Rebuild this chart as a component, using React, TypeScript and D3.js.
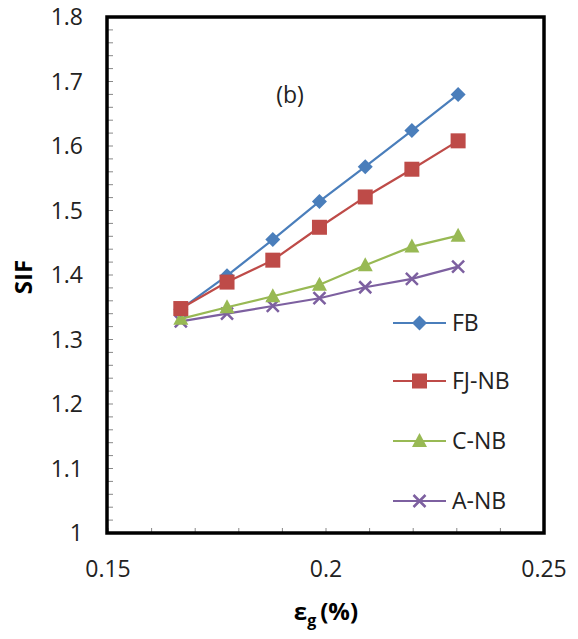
import React, { useRef, useEffect } from "react";
import * as d3 from "d3";

// strain values (x) and SIF for each joint type
const strain = [0.1667, 0.1773, 0.1878, 0.1985, 0.209, 0.2197, 0.2303];
const fb = [1.347, 1.399, 1.455, 1.514, 1.568, 1.624, 1.68];
const fjnb = [1.348, 1.389, 1.423, 1.474, 1.521, 1.564, 1.608];
const cnb = [1.332, 1.35, 1.367, 1.385, 1.415, 1.444, 1.461];
const anb = [1.328, 1.34, 1.352, 1.364, 1.381, 1.394, 1.413];
const seriesNames = ["FB", "FJ-NB", "C-NB", "A-NB"];
const xTicks = [0.15, 0.2, 0.25];
const yTicks = [1, 1.1, 1.2, 1.3, 1.4, 1.5, 1.6, 1.7, 1.8];

const colors = ["#4A7EBB", "#BE4B48", "#98B954", "#7D60A0"];
const symbols = ["diamond", "square", "triangle", "cross"];
const font = "'Open Sans', 'Liberation Sans', sans-serif";

const App = () => {
  const ref = useRef<SVGSVGElement>(null);

  useEffect(() => {
    const width = 578;
    const height = 639;
    const margin = { left: 107, right: 34, top: 17, bottom: 106 };

    const svg = d3.select(ref.current).attr("viewBox", [0, 0, width, height]);
    svg.selectAll("*").remove();

    const x = d3.scaleLinear().domain([0.15, 0.25]).range([margin.left + 1, width - margin.right]);
    const y = d3.scaleLinear().domain([1, 1.8]).range([height - margin.bottom, margin.top]);

    const allSeries = [fb, fjnb, cnb, anb];

    // minor ticks inside plot
    const minorX = d3.range(0.15, 0.2501, 0.01);
    svg.append("g")
      .selectAll("line")
      .data(minorX)
      .join("line")
      .attr("x1", (d) => x(d))
      .attr("x2", (d) => x(d))
      .attr("y1", y(1))
      .attr("y2", y(1) - 5)
      .attr("stroke", "#888")
      .attr("stroke-width", 1);

    const minorY = d3.range(1, 1.8001, 0.02);
    svg.append("g")
      .selectAll("line")
      .data(minorY)
      .join("line")
      .attr("x1", x(0.15))
      .attr("x2", x(0.15) + 5)
      .attr("y1", (d) => y(d))
      .attr("y2", (d) => y(d))
      .attr("stroke", "#888")
      .attr("stroke-width", 1);

    // frame
    svg.append("rect")
      .attr("x", x(0.15) - 1)
      .attr("y", y(1.8))
      .attr("width", x(0.25) - x(0.15) + 1)
      .attr("height", y(1) - y(1.8))
      .attr("fill", "none")
      .attr("stroke", "#000")
      .attr("stroke-width", 3.5);

    // tick labels
    svg.append("g")
      .selectAll("text")
      .data(yTicks)
      .join("text")
      .attr("x", 83)
      .attr("y", (d) => y(d) + 8)
      .attr("text-anchor", "end")
      .attr("font-family", font)
      .attr("font-size", 23)
      .attr("fill", "#222")
      .text((d) => d3.format("")(d));

    svg.append("g")
      .selectAll("text")
      .data(xTicks)
      .join("text")
      .attr("x", (d) => x(d))
      .attr("y", 577)
      .attr("text-anchor", "middle")
      .attr("font-family", font)
      .attr("font-size", 23)
      .attr("fill", "#222")
      .text((d) => d3.format("")(d));

    // axis titles
    svg.append("text")
      .attr("transform", `translate(32,277) rotate(-90)`)
      .attr("text-anchor", "middle")
      .attr("font-family", font)
      .attr("font-size", 24)
      .attr("font-weight", "bold")
      .text("SIF");

    const xt = svg.append("text")
      .attr("x", 326)
      .attr("y", 620)
      .attr("text-anchor", "middle")
      .attr("font-family", font)
      .attr("font-size", 24)
      .attr("font-weight", "bold");
    xt.append("tspan").text("ε");
    xt.append("tspan").attr("font-size", 16).attr("dy", 6).text("g");
    xt.append("tspan").attr("dy", -6).attr("dx", 4).text("(%)");

    svg.append("text")
      .attr("x", 290)
      .attr("y", 103)
      .attr("text-anchor", "middle")
      .attr("font-family", font)
      .attr("font-size", 23)
      .attr("fill", "#222")
      .text("(b)");

    const line = d3.line<number>()
      .x((_, i) => x(strain[i]))
      .y((d) => y(d));

    const drawMarker = (g, kind, color, cx, cy) => {
      if (kind === "diamond") {
        g.append("path")
          .attr("d", `M${cx},${cy - 7.5}L${cx + 7.5},${cy}L${cx},${cy + 7.5}L${cx - 7.5},${cy}Z`)
          .attr("fill", color);
      } else if (kind === "square") {
        g.append("rect")
          .attr("x", cx - 7.5)
          .attr("y", cy - 7.5)
          .attr("width", 15)
          .attr("height", 15)
          .attr("fill", color);
      } else if (kind === "triangle") {
        g.append("path")
          .attr("d", `M${cx},${cy - 8}L${cx + 7.5},${cy + 6}L${cx - 7.5},${cy + 6}Z`)
          .attr("fill", color);
      } else {
        g.append("path")
          .attr("d", `M${cx - 6},${cy - 6}L${cx + 6},${cy + 6}M${cx - 6},${cy + 6}L${cx + 6},${cy - 6}`)
          .attr("stroke", color)
          .attr("stroke-width", 2.5)
          .attr("fill", "none");
      }
    };

    // draw order so FB sits under FJ-NB like the original
    [3, 2, 0, 1].forEach((k) => {
      const data = allSeries[k];
      const g = svg.append("g");
      g.append("path")
        .datum(data)
        .attr("d", line)
        .attr("fill", "none")
        .attr("stroke", colors[k])
        .attr("stroke-width", 2.2);
      data.forEach((d, i) => drawMarker(g, symbols[k], colors[k], x(strain[i]), y(d)));
    });

    // legend
    const legendY = [323, 381, 441, 501];
    seriesNames.forEach((name, k) => {
      const g = svg.append("g");
      g.append("line")
        .attr("x1", 393)
        .attr("x2", 446)
        .attr("y1", legendY[k])
        .attr("y2", legendY[k])
        .attr("stroke", colors[k])
        .attr("stroke-width", 2.2);
      drawMarker(g, symbols[k], colors[k], 419.5, legendY[k]);
      g.append("text")
        .attr("x", 452)
        .attr("y", legendY[k] + 8)
        .attr("font-family", font)
        .attr("font-size", 23)
        .attr("fill", "#222")
        .text(name);
    });
  }, []);

  return (
    <svg ref={ref} width={578} height={639} style={{ position: "absolute", left: 0, top: 0, background: "#fff" }}></svg>
  );
};

export default App;
